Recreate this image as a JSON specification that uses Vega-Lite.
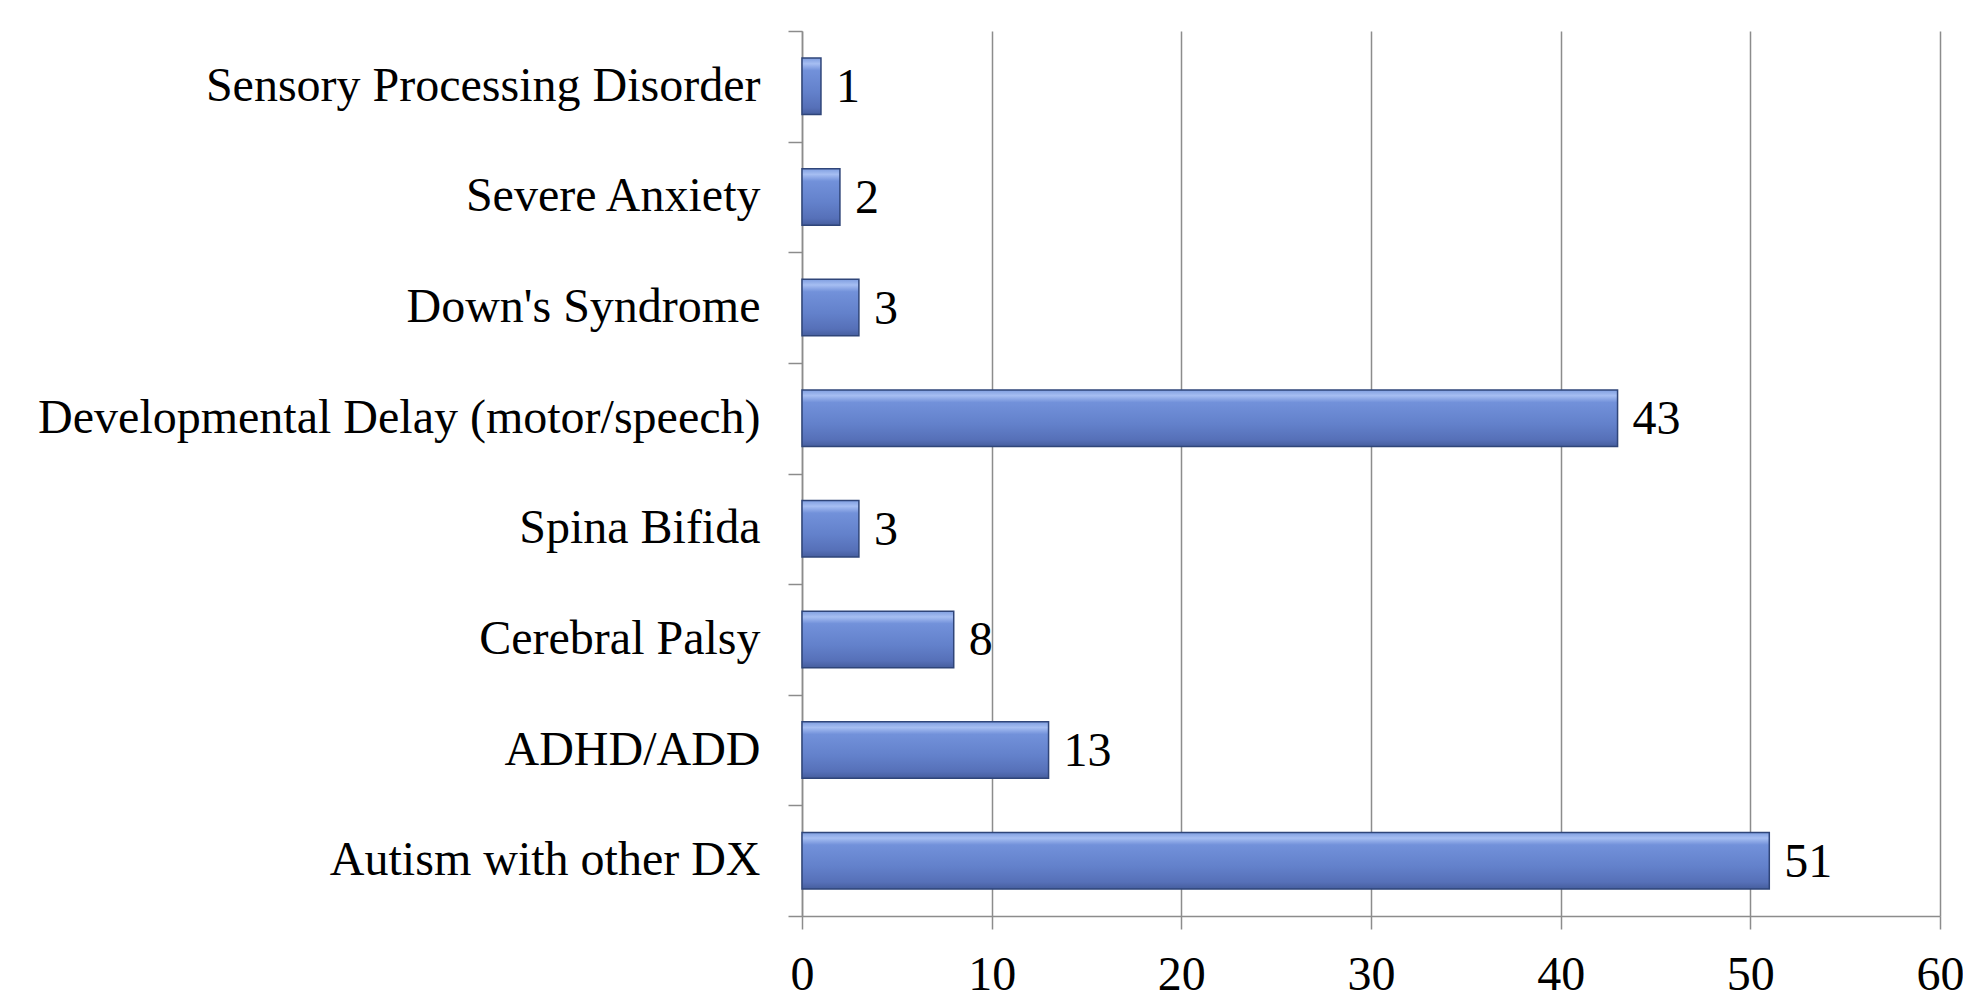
{
  "$schema": "https://vega.github.io/schema/vega-lite/v6.json",
  "autosize": {"type": "none"},
  "width": 1138,
  "height": 885,
  "padding": {"left": 802, "top": 31, "right": 23, "bottom": 88},
  "background": "white",
  "data": {
    "values": [
      {"category": "Sensory Processing Disorder", "count": 1},
      {"category": "Severe Anxiety", "count": 2},
      {"category": "Down's Syndrome", "count": 3},
      {"category": "Developmental Delay (motor/speech)", "count": 43},
      {"category": "Spina Bifida", "count": 3},
      {"category": "Cerebral Palsy", "count": 8},
      {"category": "ADHD/ADD", "count": 13},
      {"category": "Autism with other DX", "count": 51}
    ]
  },
  "config": {
    "view": {"stroke": null},
    "font": "Liberation Serif"
  },
  "encoding": {
    "y": {
      "field": "category",
      "type": "nominal",
      "sort": null,
      "title": null,
      "scale": {"paddingInner": 0, "paddingOuter": 0},
      "axis": {
        "tickBand": "extent",
        "domainColor": "#8c8c8c",
        "domainWidth": 1.5,
        "tickColor": "#8c8c8c",
        "tickWidth": 1.5,
        "tickSize": 14,
        "labelFont": "Liberation Serif",
        "labelFontSize": 48,
        "labelColor": "black",
        "labelPadding": 28,
        "labelLimit": 900,
        "grid": false
      }
    },
    "x": {
      "field": "count",
      "type": "quantitative",
      "title": null,
      "scale": {"domain": [0, 60], "nice": false},
      "axis": {
        "values": [0, 10, 20, 30, 40, 50, 60],
        "grid": true,
        "gridColor": "#8c8c8c",
        "gridWidth": 1.5,
        "domainColor": "#8c8c8c",
        "domainWidth": 1.5,
        "tickColor": "#8c8c8c",
        "tickWidth": 1.5,
        "tickSize": 13,
        "labelFont": "Liberation Serif",
        "labelFontSize": 48,
        "labelColor": "black",
        "labelPadding": 22,
        "labelFlush": false
      }
    }
  },
  "layer": [
    {
      "mark": {
        "type": "bar",
        "height": {"band": 0.51},
        "stroke": "#2f4579",
        "strokeWidth": 1.5,
        "color": {
          "gradient": "linear",
          "x1": 0, "y1": 0, "x2": 0, "y2": 1,
          "stops": [
            {"offset": 0, "color": "#7f9ee0"},
            {"offset": 0.1, "color": "#a6bef2"},
            {"offset": 0.22, "color": "#7291da"},
            {"offset": 0.6, "color": "#6381cb"},
            {"offset": 0.88, "color": "#5670b8"},
            {"offset": 1, "color": "#465e9e"}
          ]
        }
      }
    },
    {
      "mark": {
        "type": "text",
        "align": "left",
        "baseline": "middle",
        "dx": 15,
        "dy": 2,
        "font": "Liberation Serif",
        "fontSize": 48,
        "color": "black"
      },
      "encoding": {"text": {"field": "count", "type": "quantitative"}}
    }
  ]
}
